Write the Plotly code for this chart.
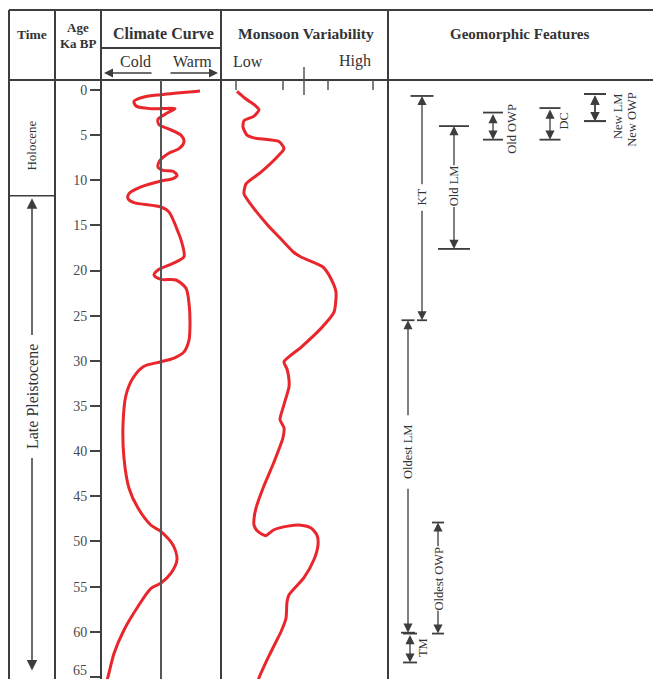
import plotly.graph_objects as go

W, H = 653, 679

# ---------------- data ----------------
AGE_TICKS = list(range(0, 66, 5))

CLIMATE_AGE = [0.11, 0.52, 0.78, 1.25, 1.77, 2.07, 2.07, 2.5, 3.25, 3.84, 4.28, 5.0, 5.76, 6.5, 7.05,
               7.79, 8.53, 8.9, 9.0, 9.45, 9.82, 10.08, 10.74, 11.48, 12.03, 12.48, 12.96, 13.5, 14.6,
               15.7, 16.6, 18.46, 19.2, 19.86, 20.5, 20.97, 21.04, 21.96, 23.6, 25.8, 27.7, 29.0, 29.7,
               30.1, 30.6, 31.9, 33.8, 37.1, 40.8, 44.1, 46.3, 48.2, 48.9, 50.4, 52.0, 53.5, 54.6, 55.2,
               57.2, 59.8, 62.4, 65.0, 65.3]
CLIMATE_IDX = [39, 0, -17, -27, -25, -10, 14, 7, -3, -2, 7, 20, 23, 18, 7,
               -1, -3, 2, 12, 16, 12, 0, -20, -32, -33, -27, 0, 8, 13,
               17, 20, 23, 12, -2, -7, 0, 15, 25, 28, 29, 28, 23, 13,
               0, -17, -28, -35, -38, -37, -32, -23, -10, 0, 12, 16, 10, 0, -10,
               -23, -37, -47, -53, -54]

MONSOON_AGE = [0.15, 1.0, 1.6, 2.2, 2.9, 3.4, 4.1, 5.0, 5.3, 5.7, 6.5, 7.2, 9.1, 10.4, 11.5, 12.7,
               15.0, 16.5, 18.0, 18.5, 19.6, 20.9, 22.4, 24.6, 26.4, 28.5, 30.1, 30.9, 32.1, 32.9,
               35.2, 36.5, 37.4, 38.5, 41.2, 44.1, 46.3, 47.5, 48.2, 48.9, 49.3, 49.35, 48.7, 48.3,
               48.2, 48.5, 49.3, 50.4, 52.0, 54.0, 55.9, 56.7, 58.5, 60.0, 61.1, 62.9, 65.1, 65.4]
MONSOON_IDX = [16, 25, 33, 38, 33, 23, 22, 26, 33, 58, 63, 58, 40, 25, 23, 30,
               47, 60, 73, 80, 102, 110, 115, 113, 100, 80, 63, 66, 68, 68,
               62, 59, 63, 62, 53, 42, 35, 33, 33, 37, 43, 45, 53, 67,
               80, 90, 96, 97, 93, 83, 68, 66, 65, 60, 55, 47, 38, 37]
MONSOON_SCALE_TICKS = [15, 62, 107, 152]
MONSOON_MID_TICK = 83

HOLOCENE_END = 11.7

FEATURE_NAMES = ["KT", "Old LM", "Old OWP", "DC", "New LM", "New OWP", "Oldest LM", "Oldest OWP", "TM"]
FEATURE_TOP = [0.66, 4.0, 2.5, 2.0, 0.45, 0.45, 25.5, 47.9, 60.2]
FEATURE_BOTTOM = [25.5, 17.6, 5.5, 5.5, 3.45, 3.45, 60.1, 60.2, 63.4]

# ---------------- layout config (positions / styles) ----------------
FEATURE_STYLE = {
    "KT":         dict(x=422, cap=(11.5, 5), mode="gap", gap=(10.6, 13.2)),
    "Old LM":     dict(x=454, cap=(15, 16), mode="gap", gap=(8.5, 12.8)),
    "Old OWP":    dict(x=493, cap=(10, 10), mode="side", lx=512, ly=4.3),
    "DC":         dict(x=550, cap=(10.5, 10.5), mode="side", lx=564, ly=3.5),
    "New LM":     dict(x=595, cap=(11, 11), mode="side", lx=618, ly=3.0),
    "New OWP":    dict(x=595, cap=(11, 11), mode="side", lx=632, ly=3.3),
    "Oldest LM":  dict(x=408, cap=(6.5, 7), mode="gap", gap=(36.2, 44.0)),
    "Oldest OWP": dict(x=438, cap=(6, 6), mode="gap", gap=(50.7, 57.5)),
    "TM":         dict(x=410, cap=(7, 7), mode="side", lx=423, ly=61.8),
}

SERIF = "Liberation Serif"
LINE = "#3d3d3d"
TXT = "#333333"
RED = "#e8262b"
TICKCOL = "#4a4a4a"


def P(ypx):
    return 1 - ypx / H


def X(xpx):
    return xpx / W


fig = go.Figure()

fig.add_trace(go.Scatter(x=CLIMATE_IDX, y=CLIMATE_AGE, mode="lines", xaxis="x", yaxis="y",
                         line=dict(color=RED, width=3, shape="spline", smoothing=0.8),
                         hoverinfo="skip", showlegend=False))
fig.add_trace(go.Scatter(x=MONSOON_IDX, y=MONSOON_AGE, mode="lines", xaxis="x2", yaxis="y",
                         line=dict(color=RED, width=3, shape="spline", smoothing=0.6),
                         hoverinfo="skip", showlegend=False))

shapes = []
frame = [
    (9, 10, 653, 10), (9, 80, 653, 80), (101, 48, 221, 48),
    (9, 10, 9, 679), (55, 10, 55, 679), (101, 10, 101, 679), (221, 10, 221, 679), (388, 10, 388, 679),
]
for x0, y0, x1, y1 in frame:
    shapes.append(dict(type="line", xref="paper", yref="paper", x0=X(x0), y0=P(y0), x1=X(x1), y1=P(y1),
                       line=dict(color=LINE, width=2)))
shapes.append(dict(type="line", xref="paper", yref="y", x0=X(9), x1=X(55), y0=HOLOCENE_END, y1=HOLOCENE_END,
                   line=dict(color=LINE, width=1.5)))
shapes.append(dict(type="line", xref="x", yref="paper", x0=0, x1=0, y0=0, y1=P(80),
                   line=dict(color="#555555", width=2)))
for t in MONSOON_SCALE_TICKS:
    shapes.append(dict(type="line", xref="x2", yref="paper", x0=t, x1=t, y0=P(80), y1=P(90),
                       line=dict(color="#555555", width=1.5)))
shapes.append(dict(type="line", xref="x2", yref="paper", x0=MONSOON_MID_TICK, x1=MONSOON_MID_TICK,
                   y0=P(67), y1=P(95), line=dict(color="#555555", width=1.5)))

annotations = []


def txt(x, y, text, size, bold=False, angle=0, xref="paper", yref="paper", color=TXT):
    annotations.append(dict(x=x, y=y, xref=xref, yref=yref, text=f"<b>{text}</b>" if bold else text,
                            showarrow=False, textangle=angle, xanchor="center", yanchor="middle",
                            font=dict(family=SERIF, size=size, color=color)))


def arrow(x, y, ax, ay, xref, yref, both=False, width=1.3):
    annotations.append(dict(x=x, y=y, ax=ax, ay=ay, xref=xref, yref=yref, axref=xref, ayref=yref,
                            text="", showarrow=True, arrowhead=2, arrowsize=1.4, arrowwidth=width,
                            arrowcolor=LINE, arrowside="end+start" if both else "end",
                            standoff=0, startstandoff=0))


txt(X(32), P(34), "Time", 13.5, bold=True)
txt(X(78), P(27.5), "Age", 13, bold=True)
txt(X(78), P(43.5), "Ka BP", 13, bold=True)
txt(X(163), P(33), "Climate Curve", 16, bold=True)
txt(X(135), P(61), "Cold", 16)
txt(X(192), P(61), "Warm", 16)
txt(X(306), P(33), "Monsoon Variability", 15.5, bold=True)
txt(X(248), P(61), "Low", 16)
txt(X(355), P(61), "High", 16)
txt(X(519), P(34), "Geomorphic Features", 15, bold=True)

annotations.append(dict(x=X(104), y=P(73), xref="paper", yref="paper", ax=49, ay=0, text="",
                        showarrow=True, arrowhead=2, arrowsize=1.2, arrowwidth=1.5, arrowcolor=LINE))
annotations.append(dict(x=X(218), y=P(73), xref="paper", yref="paper", ax=-49, ay=0, text="",
                        showarrow=True, arrowhead=2, arrowsize=1.2, arrowwidth=1.5, arrowcolor=LINE))

# last age tick label sits on the page edge: keep it fully visible just above the edge
annotations.append(dict(x=X(88), y=0, xref="paper", yref="paper", xanchor="right", yanchor="bottom",
                        text=str(AGE_TICKS[-1]), showarrow=False, borderpad=0,
                        font=dict(family=SERIF, size=14, color=TICKCOL)))

txt(0.5, HOLOCENE_END / 2 + 0.3, "Holocene", 13, angle=-90, xref="x4", yref="y")
txt(0.5, 34.0, "Late Pleistocene", 16, angle=-90, xref="x4", yref="y")
arrow(0.5, 12.0, 0.5, 27.3, "x4", "y", width=1.5)
arrow(0.5, 64.3, 0.5, 40.6, "x4", "y", width=1.5)

for name, top, bot in zip(FEATURE_NAMES, FEATURE_TOP, FEATURE_BOTTOM):
    st = FEATURE_STYLE[name]
    cx = st["x"]
    for age, half in ((top, st["cap"][0]), (bot, st["cap"][1])):
        shapes.append(dict(type="line", xref="x3", yref="y", x0=cx - half, x1=cx + half, y0=age, y1=age,
                           line=dict(color=LINE, width=1.8)))
    if st["mode"] == "gap":
        g0, g1 = st["gap"]
        arrow(cx, top, cx, g0, "x3", "y")
        arrow(cx, bot, cx, g1, "x3", "y")
        txt(cx, (g0 + g1) / 2, name, 12.5, angle=-90, xref="x3", yref="y")
    else:
        arrow(cx, bot, cx, top, "x3", "y", both=True)
        txt(st["lx"], st["ly"], name, 12.5, angle=-90, xref="x3", yref="y")

ydom = [0, P(80)]
fig.update_layout(
    width=W, height=H, autosize=False,
    margin=dict(l=0, r=0, t=0, b=0, pad=0),
    paper_bgcolor="white", plot_bgcolor="white",
    showlegend=False,
    shapes=shapes, annotations=annotations,
    xaxis=dict(domain=[X(101), X(221)], range=[-60, 60], visible=False, anchor="y", fixedrange=True),
    xaxis2=dict(domain=[X(221), X(388)], range=[0, 167], visible=False, anchor="y", fixedrange=True),
    xaxis3=dict(domain=[X(388), 1], range=[388, 653], visible=False, anchor="y", fixedrange=True),
    xaxis4=dict(domain=[X(9), X(55)], range=[0, 1], visible=False, anchor="y", fixedrange=True),
    yaxis=dict(domain=ydom, range=[65.23, -1.107], anchor="x", tickmode="array", tickvals=AGE_TICKS,
               ticks="outside", ticklen=10, tickwidth=2, tickcolor="#444444",
               tickfont=dict(family=SERIF, size=14, color=TICKCOL),
               showgrid=False, zeroline=False, showline=False, fixedrange=True),
)

fig.write_html("out.html", config={"displayModeBar": False, "staticPlot": True},
               post_script="document.body.style.margin='0';document.body.style.overflow='hidden';")
